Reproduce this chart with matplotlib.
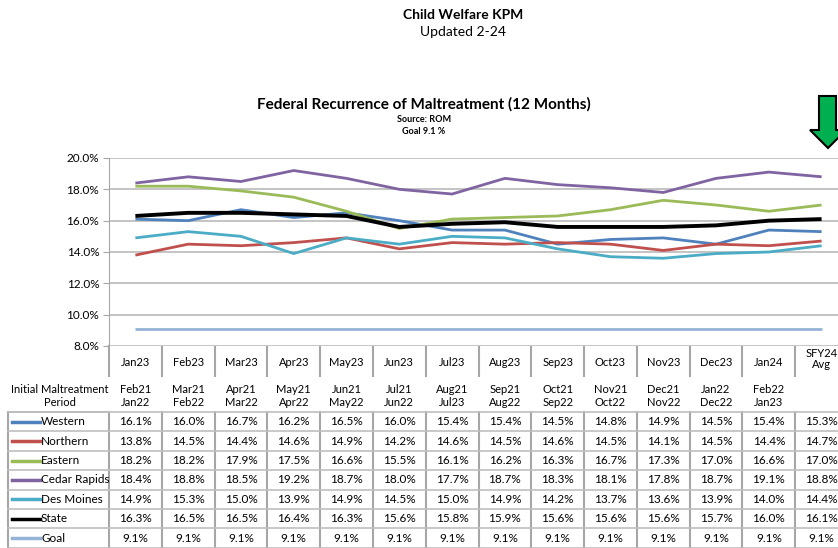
import matplotlib.pyplot as plt
from matplotlib.transforms import blended_transform_factory
from matplotlib.patches import Polygon

plt.rcParams['font.family'] = ['Lato', 'DejaVu Sans']

months = ['Jan23', 'Feb23', 'Mar23', 'Apr23', 'May23', 'Jun23', 'Jul23',
          'Aug23', 'Sep23', 'Oct23', 'Nov23', 'Dec23', 'Jan24', 'SFY24\nAvg']
periods = ['Feb21\nJan22', 'Mar21\nFeb22', 'Apr21\nMar22', 'May21\nApr22',
           'Jun21\nMay22', 'Jul21\nJun22', 'Aug21\nJul23', 'Sep21\nAug22',
           'Oct21\nSep22', 'Nov21\nOct22', 'Dec21\nNov22', 'Jan22\nDec22',
           'Feb22\nJan23', '']

western = [16.1, 16.0, 16.7, 16.2, 16.5, 16.0, 15.4, 15.4, 14.5, 14.8, 14.9, 14.5, 15.4, 15.3]
northern = [13.8, 14.5, 14.4, 14.6, 14.9, 14.2, 14.6, 14.5, 14.6, 14.5, 14.1, 14.5, 14.4, 14.7]
eastern = [18.2, 18.2, 17.9, 17.5, 16.6, 15.5, 16.1, 16.2, 16.3, 16.7, 17.3, 17.0, 16.6, 17.0]
cedar_rapids = [18.4, 18.8, 18.5, 19.2, 18.7, 18.0, 17.7, 18.7, 18.3, 18.1, 17.8, 18.7, 19.1, 18.8]
des_moines = [14.9, 15.3, 15.0, 13.9, 14.9, 14.5, 15.0, 14.9, 14.2, 13.7, 13.6, 13.9, 14.0, 14.4]
state = [16.3, 16.5, 16.5, 16.4, 16.3, 15.6, 15.8, 15.9, 15.6, 15.6, 15.6, 15.7, 16.0, 16.1]
goal = [9.1] * 14

series = [
    ('Western', western, '#4F81BD', 2.0),
    ('Northern', northern, '#C0504D', 2.0),
    ('Eastern', eastern, '#9BBB59', 2.0),
    ('Cedar Rapids', cedar_rapids, '#8064A2', 2.0),
    ('Des Moines', des_moines, '#4BACC6', 2.0),
    ('State', state, '#000000', 2.8),
    ('Goal', goal, '#95B3D7', 2.0),
]

W, H = 838, 548
fig = plt.figure(figsize=(W / 100, H / 100), dpi=100)

# page-pixel overlay for titles and table
ov = fig.add_axes([0, 0, 1, 1])
ov.set_xlim(0, W)
ov.set_ylim(H, 0)
ov.axis('off')

ax = fig.add_axes([109 / W, 1 - 346 / H, 739 / W, 188 / H])
x = list(range(len(months)))
for name, vals, col, lw in series:
    ax.plot(x, vals, color=col, lw=lw, solid_capstyle='butt', zorder=3)
ax.set_xlim(-0.5, len(months) - 0.5)
ax.set_ylim(8, 20)
ax.set_yticks([8, 10, 12, 14, 16, 18, 20])
ax.set_yticklabels(['%.1f%%' % v for v in [8, 10, 12, 14, 16, 18, 20]], fontsize=8.5)
ax.yaxis.grid(True, color='#BFBFBF', lw=1.3)
ax.set_xticks([])
for s in ['top', 'right', 'bottom']:
    ax.spines[s].set_visible(False)
ax.spines['left'].set_color('#A6A6A6')
ax.tick_params(axis='y', length=4, color='#A6A6A6', pad=3)

# titles
ov.text(463, 15, 'Child Welfare KPM', ha='center', va='center', fontsize=10, fontweight='bold')
ov.text(463, 32, 'Updated 2-24', ha='center', va='center', fontsize=10)
ov.text(424, 104, 'Federal Recurrence of Maltreatment (12 Months)', ha='center', va='center',
        fontsize=11, fontweight='bold')
ov.text(424, 119, 'Source: ROM', ha='center', va='center', fontsize=6.5, fontweight='bold')
ov.text(424, 131, 'Goal 9.1 %', ha='center', va='center', fontsize=6.5, fontweight='bold')

# green arrow
ov.add_patch(Polygon([(819, 96), (836, 96), (836, 130), (846, 130), (828, 148),
                      (810, 130), (819, 130)], closed=True, facecolor='#00B050',
                     edgecolor='black', lw=1.5))

# category axis labels and table
tr = blended_transform_factory(ax.transData, ov.transData)
row_top = 412
row_h = 19.4
n_rows = len(series)
for i in range(len(months) + 1):
    ov.plot([i - 0.5, i - 0.5], [346, 376], color='#A6A6A6', lw=1.5, transform=tr, clip_on=False)
    ov.plot([i - 0.5, i - 0.5], [row_top, H], color='#A6A6A6', lw=1.5, transform=tr, clip_on=False)
for i, m in enumerate(months):
    ov.text(i, 363 if i < len(months) - 1 else 359, m, ha='center', va='center',
            fontsize=8, transform=tr, linespacing=1.1)
    ov.text(i, 396, periods[i], ha='center', va='center', fontsize=8, transform=tr,
            linespacing=1.2)
ov.text(60, 396, 'Initial Maltreatment\nPeriod', ha='center', va='center', fontsize=8,
        linespacing=1.2)

# table grid
ov.plot([8, 8], [row_top, H], color='#A6A6A6', lw=1.5)
ov.plot([8, 109], [row_top, row_top], color='#A6A6A6', lw=1.2)
for r in range(n_rows + 1):
    yl = row_top + r * row_h
    ov.plot([-0.5, len(months) - 0.5], [yl, yl], color='#BFBFBF', lw=1.2, transform=tr,
            clip_on=False)
    ov.plot([8, 109], [yl, yl], color='#BFBFBF', lw=1.2)

for r, (name, vals, col, lw) in enumerate(series):
    yc = row_top + (r + 0.5) * row_h
    ov.plot([12, 40], [yc, yc], color=col, lw=2.5)
    ov.text(41, yc, name, ha='left', va='center', fontsize=8.5)
    for i, v in enumerate(vals):
        ov.text(i, yc, '%.1f%%' % v, ha='center', va='center', fontsize=8.5, transform=tr)

fig.savefig('out.png', dpi=100)
